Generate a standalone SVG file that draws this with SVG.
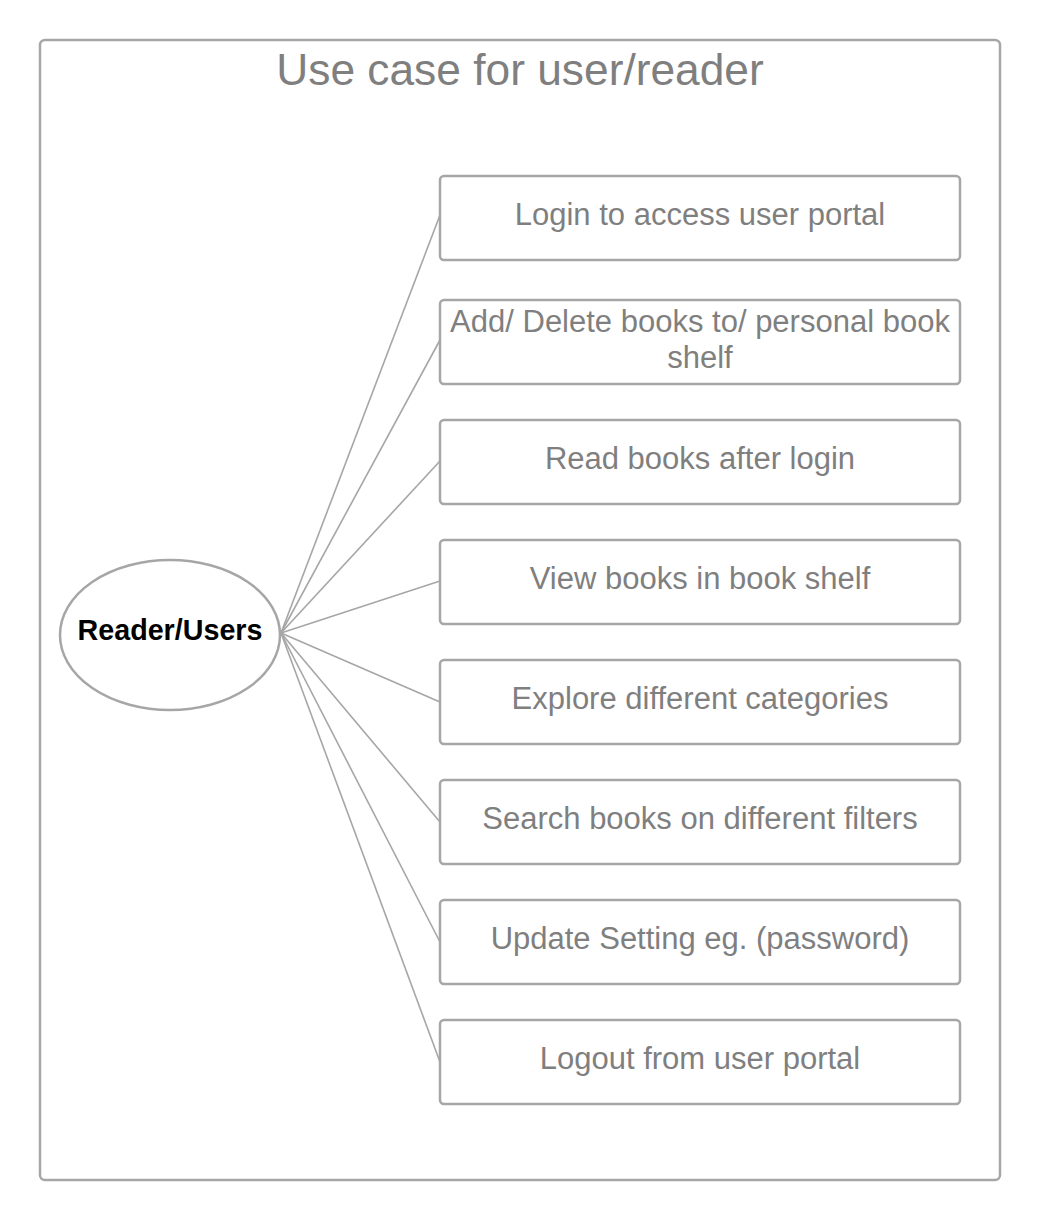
<svg xmlns="http://www.w3.org/2000/svg" width="1040" height="1220" viewBox="0 0 1040 1220">
<style>
.frame{fill:#fff;stroke:#a6a6a6;stroke-width:2.5}
.box{fill:#fff;stroke:#a6a6a6;stroke-width:2.5}
.t{font-family:"Liberation Sans",Arial,sans-serif;fill:#7f7f7f;text-anchor:middle;font-size:31px}
.c{stroke:#a6a6a6;stroke-width:1.6;fill:none}
</style>
<rect width="1040" height="1220" fill="#fff"/>
<g id="frame">
<rect class="frame" x="40" y="40" width="960" height="1140" rx="5"/>
<text class="t" x="520" y="85" style="font-size:44.3px">Use case for user/reader</text>
</g>
<g id="connectors">
<line class="c" x1="281" y1="633" x2="440" y2="215"/>
<line class="c" x1="281" y1="633" x2="440" y2="340"/>
<line class="c" x1="281" y1="633" x2="440" y2="461"/>
<line class="c" x1="281" y1="633" x2="440" y2="581"/>
<line class="c" x1="281" y1="633" x2="440" y2="702"/>
<line class="c" x1="281" y1="633" x2="440" y2="822"/>
<line class="c" x1="281" y1="633" x2="440" y2="942"/>
<line class="c" x1="281" y1="633" x2="440" y2="1062"/>
</g>
<g id="actor">
<ellipse cx="170" cy="635" rx="110" ry="75" fill="#fff" stroke="#a6a6a6" stroke-width="2.5"/>
<text x="170" y="640" style="font-family:'Liberation Sans',Arial,sans-serif;font-weight:bold;font-size:28.7px;fill:#000;text-anchor:middle">Reader/Users</text>
</g>
<g id="uc1"><rect class="box" x="440" y="176" width="520" height="84" rx="4"/><text class="t" x="700" y="225">Login to access user portal</text></g>
<g id="uc2"><rect class="box" x="440" y="300" width="520" height="84" rx="4"/><text class="t" x="700" y="332">Add/ Delete books to/ personal book</text><text class="t" x="700" y="368">shelf</text></g>
<g id="uc3"><rect class="box" x="440" y="420" width="520" height="84" rx="4"/><text class="t" x="700" y="469">Read books after login</text></g>
<g id="uc4"><rect class="box" x="440" y="540" width="520" height="84" rx="4"/><text class="t" x="700" y="589">View books in book shelf</text></g>
<g id="uc5"><rect class="box" x="440" y="660" width="520" height="84" rx="4"/><text class="t" x="700" y="709">Explore different categories</text></g>
<g id="uc6"><rect class="box" x="440" y="780" width="520" height="84" rx="4"/><text class="t" x="700" y="829">Search books on different filters</text></g>
<g id="uc7"><rect class="box" x="440" y="900" width="520" height="84" rx="4"/><text class="t" x="700" y="949">Update Setting eg. (password)</text></g>
<g id="uc8"><rect class="box" x="440" y="1020" width="520" height="84" rx="4"/><text class="t" x="700" y="1069">Logout from user portal</text></g>
</svg>
